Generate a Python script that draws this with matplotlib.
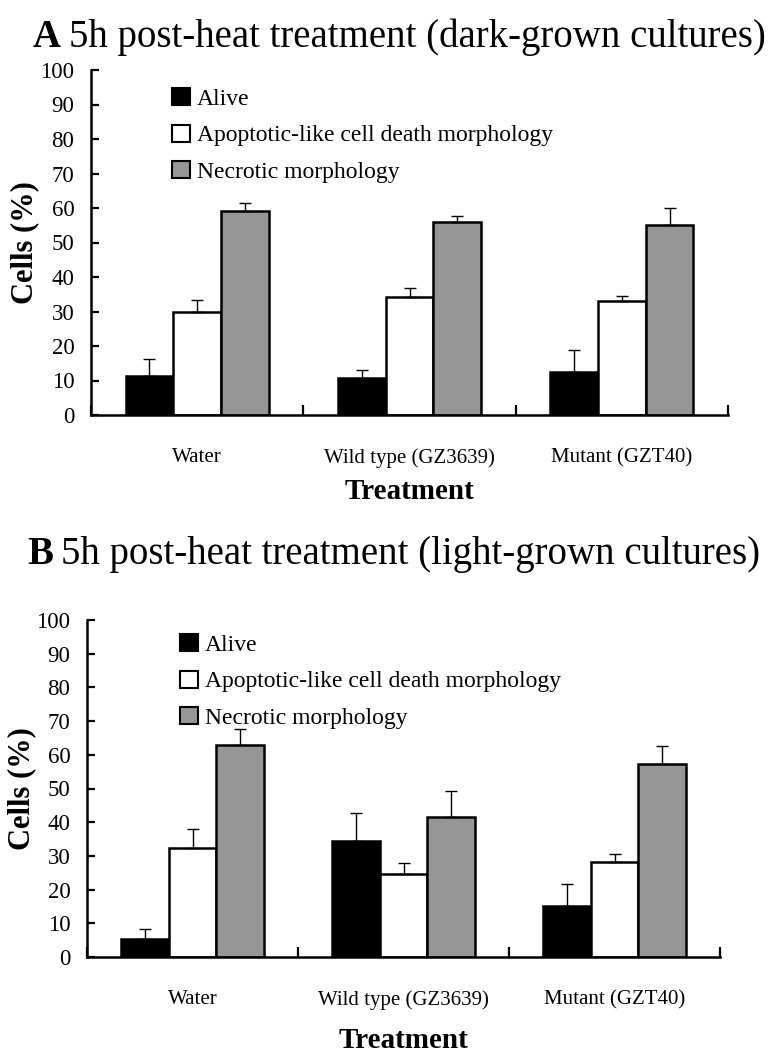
import matplotlib
matplotlib.use("Agg")
import matplotlib.pyplot as plt
from matplotlib.patches import Patch
import numpy as np

plt.rcParams['font.family'] = ['Liberation Serif', 'DejaVu Serif']

categories = ["Water", "Wild type (GZ3639)", "Mutant (GZT40)"]
series = ["Alive", "Apoptotic-like cell death morphology", "Necrotic morphology"]
colors = ["#000000", "#ffffff", "#969696"]

# Panel A: dark-grown cultures
a_alive = [11.2, 10.7, 12.4]
a_alive_err = [5.0, 2.3, 6.4]
a_apop = [29.9, 34.3, 33.0]
a_apop_err = [3.3, 2.4, 1.5]
a_necr = [59.2, 55.8, 55.2]
a_necr_err = [2.3, 1.9, 4.7]

# Panel B: light-grown cultures
b_alive = [5.2, 34.4, 15.1]
b_alive_err = [3.0, 8.4, 6.5]
b_apop = [32.4, 24.5, 28.1]
b_apop_err = [5.7, 3.4, 2.6]
b_necr = [62.8, 41.5, 57.3]
b_necr_err = [4.9, 7.7, 5.3]

yticks = list(range(0, 101, 10))

W, H = 774, 1055
fig = plt.figure(figsize=(W / 100, H / 100), dpi=100)


def px_axes(left, right, top, bottom):
    return fig.add_axes([left / W, 1 - bottom / H, (right - left) / W, (bottom - top) / H])


def draw_panel(ax, vals, errs, title_bold, title_rest, title_xy, leg_anchor,
               ylabel_x, label_y, xlabel_y):
    x = np.arange(len(categories)) + 0.5
    bw = 0.225
    offsets = [-bw, 0, bw]
    for i in range(3):
        ax.bar(x + offsets[i], vals[i], width=bw, color=colors[i], edgecolor="black",
               linewidth=1.8, label=series[i], zorder=2)
        ax.errorbar(x + offsets[i], vals[i], yerr=[np.zeros(3), errs[i]], fmt="none",
                    ecolor="black", elinewidth=1.0, capsize=4.5, capthick=1.0, zorder=3)
    ax.set_xlim(0, 3)
    ax.set_ylim(0, 100)
    ax.set_yticks(yticks)
    ax.set_xticks([0, 1, 2, 3])
    ax.set_xticklabels([])
    ax.tick_params(axis="y", direction="in", length=6, width=1.6, labelsize=16.5, pad=12)
    ax.tick_params(axis="x", direction="in", length=7, width=1.6)
    for s in ["top", "right"]:
        ax.spines[s].set_visible(False)
    for s in ["left", "bottom"]:
        ax.spines[s].set_linewidth(1.8)
    for xi, c in zip(x, categories):
        fig.text(ax.transData.transform((xi, 0))[0] / W, 1 - label_y / H, c,
                 ha="center", va="center", fontsize=15)
    pos = ax.get_position()
    fig.text(0.5 * (pos.x0 + pos.x1), 1 - xlabel_y / H,
             "Treatment", ha="center", va="center", fontsize=21, fontweight="bold")
    fig.text(ylabel_x / W, 0.5 * (pos.y0 + pos.y1), "Cells (%)", rotation=90,
             ha="center", va="center", fontsize=22, fontweight="bold")
    t = fig.text(title_xy[0] / W, 1 - title_xy[1] / H, title_bold, ha="left",
                 va="baseline", fontsize=28, fontweight="bold")
    fig.canvas.draw()
    bb = t.get_window_extent()
    fig.text((bb.x1 + 8) / W, 1 - title_xy[1] / H, title_rest, ha="left",
             va="baseline", fontsize=28)
    handles = [Patch(facecolor=colors[i], edgecolor="black", linewidth=1.5) for i in range(3)]
    ax.legend(handles, series, loc="upper left", bbox_to_anchor=leg_anchor,
              frameon=False, fontsize=17, handlelength=0.75, handleheight=0.75,
              handletextpad=0.3, labelspacing=0.62, borderaxespad=0, borderpad=0)


axA = px_axes(91, 728, 70, 415)
draw_panel(axA, [a_alive, a_apop, a_necr], [a_alive_err, a_apop_err, a_necr_err],
           "A", "5h post-heat treatment (dark-grown cultures)", (33, 47),
           ((172 - 91) / 637, 1 - (88 - 70) / 345), 25, 458, 492)

axB = px_axes(87, 720, 620, 957)
draw_panel(axB, [b_alive, b_apop, b_necr], [b_alive_err, b_apop_err, b_necr_err],
           "B", "5h post-heat treatment (light-grown cultures)", (27, 564),
           ((180 - 87) / 633, 1 - (634 - 620) / 337), 22, 1000, 1040)

fig.savefig("out.png", dpi=100)
